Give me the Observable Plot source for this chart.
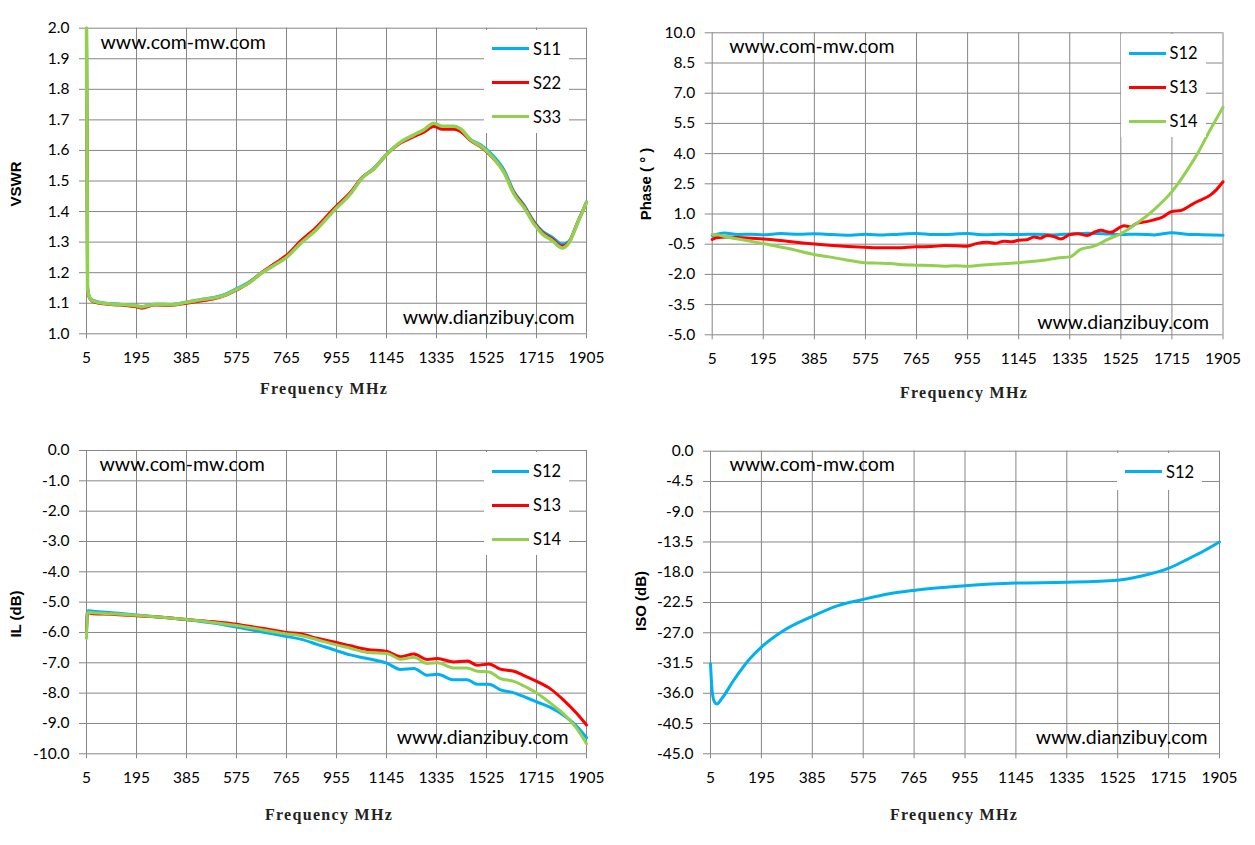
<!DOCTYPE html>
<html><head><meta charset="utf-8">
<script src="https://cdn.jsdelivr.net/npm/d3@7"></script>
<script src="https://cdn.jsdelivr.net/npm/@observablehq/plot@0.6"></script>
<style>
body{margin:0;background:#fff;}
#root{position:relative;width:1255px;height:845px;overflow:hidden;font-family:Lato,"Open Sans",sans-serif;}
.panel{position:absolute;}
.ytitle{position:absolute;font-family:"Liberation Sans",Arial,sans-serif;font-weight:bold;font-size:15px;transform:translate(-50%,-50%) rotate(-90deg);white-space:nowrap;color:#000;}
.xtitle{position:absolute;font-family:"Liberation Serif",serif;font-weight:bold;font-size:16px;letter-spacing:1.3px;transform:translate(-50%,-50%);white-space:nowrap;color:#222;}
.legend{position:absolute;background:#fff;}
.legend .row{position:absolute;left:0;width:100%;height:0;}
.legend .sw{position:absolute;left:8px;width:37px;height:3px;top:-1.5px;}
.legend .lb{position:absolute;left:49px;top:-11px;font-size:16.5px;line-height:22px;color:#000;font-family:Lato,"Open Sans",sans-serif;}
</style></head><body><div id="root"></div><script>
// ---------- data ----------
const xTicks = [5, 195, 385, 575, 765, 955, 1145, 1335, 1525, 1715, 1905];

// VSWR panel
const vswrTicks = [1.0, 1.1, 1.2, 1.3, 1.4, 1.5, 1.6, 1.7, 1.8, 1.9, 2.0];
const vswrFreq = [5, 9, 14, 25, 70, 130, 195, 213, 265, 325, 385, 445, 505, 540, 575, 620, 670, 720, 765, 818, 882, 945, 1008, 1053, 1097, 1148, 1198, 1249, 1287, 1325, 1357, 1401, 1426, 1464, 1509, 1553, 1591, 1629, 1667, 1705, 1737, 1775, 1813, 1838, 1870, 1905];
const vswrS11 = [2.0, 1.15, 1.126, 1.112, 1.101, 1.097, 1.092, 1.089, 1.097, 1.096, 1.104, 1.113, 1.122, 1.132, 1.148, 1.168, 1.2, 1.228, 1.253, 1.298, 1.347, 1.405, 1.46, 1.512, 1.542, 1.59, 1.626, 1.648, 1.665, 1.684, 1.674, 1.674, 1.667, 1.636, 1.615, 1.58, 1.537, 1.466, 1.422, 1.368, 1.336, 1.316, 1.293, 1.302, 1.362, 1.432];
const vswrS22 = [2.0, 1.15, 1.123, 1.108, 1.098, 1.094, 1.088, 1.084, 1.094, 1.093, 1.100, 1.108, 1.118, 1.128, 1.143, 1.165, 1.2, 1.23, 1.257, 1.303, 1.352, 1.41, 1.463, 1.512, 1.54, 1.589, 1.624, 1.645, 1.66, 1.678, 1.669, 1.669, 1.662, 1.632, 1.608, 1.572, 1.53, 1.462, 1.418, 1.365, 1.332, 1.31, 1.287, 1.3, 1.362, 1.43];
const vswrS33 = [2.0, 1.15, 1.125, 1.11, 1.10, 1.096, 1.092, 1.088, 1.096, 1.095, 1.103, 1.112, 1.12, 1.13, 1.145, 1.165, 1.198, 1.225, 1.25, 1.295, 1.344, 1.403, 1.458, 1.510, 1.540, 1.589, 1.627, 1.651, 1.668, 1.689, 1.679, 1.679, 1.671, 1.635, 1.611, 1.573, 1.529, 1.458, 1.414, 1.360, 1.327, 1.305, 1.281, 1.297, 1.36, 1.43];

// Phase panel
const phaseTicks = [10, 8.5, 7, 5.5, 4, 2.5, 1, -0.5, -2, -3.5, -5];
const phaseS12Freq = [5, 50, 100, 150, 195, 260, 330, 385, 450, 520, 575, 640, 700, 765, 830, 900, 955, 1020, 1080, 1145, 1210, 1270, 1335, 1400, 1460, 1525, 1590, 1650, 1715, 1770, 1830, 1905];
const phaseS12 = [-0.07, 0.06, -0.02, 0.0, -0.03, 0.03, -0.01, 0.02, -0.02, -0.05, -0.01, -0.04, 0.0, 0.03, -0.02, 0.0, 0.03, -0.03, -0.01, -0.02, 0.0, -0.04, 0.01, 0.05, 0.02, -0.02, 0.0, -0.04, 0.07, 0.0, -0.03, -0.06];
const phaseS13Freq = [5, 20, 61, 120, 195, 247, 300, 385, 440, 495, 573, 640, 693, 763, 820, 867, 910, 953, 990, 1028, 1060, 1090, 1120, 1145, 1175, 1202, 1225, 1251, 1275, 1301, 1336, 1365, 1400, 1430, 1450, 1487, 1537, 1560, 1586, 1620, 1648, 1680, 1715, 1748, 1780, 1810, 1859, 1880, 1905];
const phaseS13 = [-0.27, -0.18, -0.14, -0.18, -0.24, -0.3, -0.38, -0.49, -0.55, -0.6, -0.65, -0.68, -0.68, -0.63, -0.62, -0.57, -0.58, -0.6, -0.46, -0.4, -0.45, -0.35, -0.38, -0.3, -0.28, -0.14, -0.2, -0.07, -0.12, -0.24, -0.02, 0.02, -0.07, 0.12, 0.19, 0.09, 0.42, 0.36, 0.55, 0.62, 0.71, 0.85, 1.12, 1.17, 1.4, 1.62, 1.95, 2.2, 2.6];
const phaseS14Freq = [5, 30, 61, 128, 195, 284, 385, 440, 495, 573, 620, 668, 720, 763, 820, 867, 910, 953, 1000, 1053, 1100, 1145, 1200, 1239, 1289, 1336, 1375, 1425, 1475, 1525, 1586, 1648, 1715, 1772, 1806, 1850, 1905];
const phaseS14 = [-0.02, -0.05, -0.14, -0.3, -0.47, -0.7, -1.01, -1.13, -1.26, -1.42, -1.44, -1.46, -1.52, -1.54, -1.56, -1.59, -1.57, -1.6, -1.55, -1.5, -1.46, -1.42, -1.35, -1.3, -1.18, -1.13, -0.76, -0.6, -0.27, 0.02, 0.55, 1.21, 2.11, 3.18, 3.9, 5.0, 6.3];

// IL panel
const ilTicks = [0, -1, -2, -3, -4, -5, -6, -7, -8, -9, -10];
const ilFreq = [5, 8, 12, 30, 100, 195, 290, 385, 480, 575, 640, 700, 765, 818, 881, 955, 1008, 1072, 1148, 1198, 1249, 1300, 1338, 1401, 1452, 1490, 1534, 1578, 1629, 1680, 1720, 1768, 1819, 1870, 1905];
const ilS12 = [-6.0, -5.35, -5.28, -5.3, -5.35, -5.42, -5.5, -5.58, -5.68, -5.82, -5.93, -6.03, -6.13, -6.22, -6.39, -6.60, -6.74, -6.86, -7.02, -7.22, -7.19, -7.41, -7.38, -7.56, -7.56, -7.71, -7.71, -7.89, -7.99, -8.16, -8.30, -8.47, -8.74, -9.11, -9.47];
const ilS13 = [-5.95, -5.4, -5.35, -5.38, -5.4, -5.45, -5.5, -5.57, -5.64, -5.73, -5.82, -5.9, -6.0, -6.04, -6.19, -6.33, -6.44, -6.56, -6.63, -6.80, -6.71, -6.89, -6.86, -6.97, -6.94, -7.08, -7.04, -7.21, -7.28, -7.47, -7.63, -7.86, -8.24, -8.69, -9.05];
const ilS14 = [-6.2, -5.38, -5.33, -5.35, -5.38, -5.43, -5.5, -5.57, -5.66, -5.77, -5.86, -5.95, -6.05, -6.10, -6.24, -6.41, -6.52, -6.66, -6.69, -6.88, -6.82, -7.02, -7.0, -7.17, -7.17, -7.28, -7.30, -7.52, -7.61, -7.82, -8.02, -8.33, -8.69, -9.19, -9.67];

// ISO panel
const isoTicks = [0, -4.5, -9, -13.5, -18, -22.5, -27, -31.5, -36, -40.5, -45];
const isoFreq = [5, 11, 20, 29, 47, 91, 151, 196, 277, 383, 478, 574, 672, 763, 895, 955, 1144, 1335, 1524, 1610, 1716, 1789, 1848, 1905];
const isoS12 = [-31.6, -35.6, -37.3, -37.6, -36.8, -34.1, -30.9, -29.1, -26.7, -24.6, -23.0, -22.05, -21.2, -20.7, -20.2, -20.0, -19.6, -19.5, -19.2, -18.6, -17.4, -16.0, -14.8, -13.5];

// ---------- drawing ----------
const BLUE = "#00B0F0", RED = "#FF0000", GREEN = "#92D050", GRID = "#868686";
const root = document.getElementById("root");

function rows(freq, vals) { return freq.map((f, i) => ({f, v: vals[i]})); }

function panel(cfg) {
  const {left, top, width, height, ml, mr, mt, mb, yDomain, yTicks, series, wm1, wm2, legend, ytitle, ytitlePos, xtitlePos} = cfg;
  const marks = [
    Plot.gridX(xTicks, {stroke: GRID, strokeOpacity: 1, strokeWidth: 1}),
    Plot.gridY(yTicks, {stroke: GRID, strokeOpacity: 1, strokeWidth: 1}),
    Plot.axisX(xTicks, {tickSize: 5, tickPadding: 13, stroke: GRID, fill: "#000", tickFormat: d => String(d)}),
    Plot.axisY(yTicks, {tickSize: 7, tickPadding: 10, stroke: GRID, fill: "#000", tickFormat: d => d.toFixed(1)})
  ];
  for (const s of series) {
    marks.push(Plot.line(rows(s.freq, s.vals), {x: "f", y: "v", stroke: s.color, strokeWidth: s.w || 3, curve: "monotone-x"}));
  }
  marks.push(Plot.text(["www.com-mw.com"], {text: d => d, frameAnchor: "top-left", dx: wm1[0], dy: wm1[1], textAnchor: "start", lineAnchor: "middle", fontSize: 19.5, fill: "#000"}));
  marks.push(Plot.text(["www.dianzibuy.com"], {text: d => d, frameAnchor: "bottom-right", dx: wm2[0], dy: wm2[1], textAnchor: "end", lineAnchor: "middle", fontSize: 19.5, fill: "#000"}));
  const svg = Plot.plot({
    width, height, marginLeft: ml, marginRight: mr, marginTop: mt, marginBottom: mb,
    style: {fontFamily: "Lato, 'Open Sans', sans-serif", fontSize: "15.5px", color: "#000", background: "#fff", overflow: "visible"},
    x: {domain: [5, 1905], label: null},
    y: {domain: yDomain, label: null},
    marks
  });
  const wrap = document.createElement("div");
  wrap.className = "panel";
  wrap.style.left = left + "px"; wrap.style.top = top + "px";
  wrap.appendChild(svg);
  root.appendChild(wrap);

  // legend box (covers the grid like the original)
  const frameRight = left + width - mr, frameTop = top + mt;
  const lg = document.createElement("div");
  lg.className = "legend";
  lg.style.left = (frameRight - 102) + "px";
  lg.style.top = (frameTop + 2) + "px";
  lg.style.width = "85px";
  lg.style.height = (legend.length === 1 ? 37 : 103) + "px";
  legend.forEach((it, i) => {
    const r = document.createElement("div");
    r.className = "row";
    r.style.top = (19 + i * 34) + "px";
    r.innerHTML = `<div class="sw" style="background:${it.color}"></div><div class="lb">${it.name}</div>`;
    lg.appendChild(r);
  });
  root.appendChild(lg);

  const yt = document.createElement("div");
  yt.className = "ytitle"; yt.textContent = ytitle;
  yt.style.left = ytitlePos[0] + "px"; yt.style.top = ytitlePos[1] + "px";
  root.appendChild(yt);
  const xt = document.createElement("div");
  xt.className = "xtitle"; xt.textContent = "Frequency MHz";
  xt.style.left = xtitlePos[0] + "px"; xt.style.top = xtitlePos[1] + "px";
  root.appendChild(xt);
}

panel({
  left: 0, top: 0, width: 620, height: 420, ml: 86, mr: 34, mt: 27.7, mb: 86.7,
  yDomain: [1.0, 2.0], yTicks: vswrTicks,
  series: [
    {freq: vswrFreq, vals: vswrS11, color: BLUE},
    {freq: vswrFreq, vals: vswrS22, color: RED},
    {freq: vswrFreq, vals: vswrS33, color: GREEN, w: 3.5}
  ],
  wm1: [14, 15], wm2: [-12, -16],
  legend: [{name: "S11", color: BLUE}, {name: "S22", color: RED}, {name: "S33", color: GREEN}],
  ytitle: "VSWR", ytitlePos: [15, 184], xtitlePos: [324, 389]
});

panel({
  left: 620, top: 0, width: 635, height: 420, ml: 91.7, mr: 32.5, mt: 32.3, mb: 85.7,
  yDomain: [-5, 10], yTicks: phaseTicks,
  series: [
    {freq: phaseS12Freq, vals: phaseS12, color: BLUE},
    {freq: phaseS13Freq, vals: phaseS13, color: RED},
    {freq: phaseS14Freq, vals: phaseS14, color: GREEN}
  ],
  wm1: [17, 14], wm2: [-14, -12],
  legend: [{name: "S12", color: BLUE}, {name: "S13", color: RED}, {name: "S14", color: GREEN}],
  ytitle: "Phase ( ° )", ytitlePos: [645, 184], xtitlePos: [964, 393]
});

panel({
  left: 0, top: 420, width: 620, height: 425, ml: 86, mr: 34, mt: 30, mb: 91.7,
  yDomain: [-10, 0], yTicks: ilTicks,
  series: [
    {freq: ilFreq, vals: ilS12, color: BLUE},
    {freq: ilFreq, vals: ilS13, color: RED},
    {freq: ilFreq, vals: ilS14, color: GREEN}
  ],
  wm1: [13, 14], wm2: [-18, -16],
  legend: [{name: "S12", color: BLUE}, {name: "S13", color: RED}, {name: "S14", color: GREEN}],
  ytitle: "IL (dB)", ytitlePos: [15, 614], xtitlePos: [329, 815]
});

panel({
  left: 620, top: 420, width: 635, height: 425, ml: 90, mr: 36, mt: 30.7, mb: 91.7,
  yDomain: [-45, 0], yTicks: isoTicks,
  series: [
    {freq: isoFreq, vals: isoS12, color: BLUE}
  ],
  wm1: [19, 14], wm2: [-12, -16],
  legend: [{name: "S12", color: BLUE}],
  ytitle: "ISO (dB)", ytitlePos: [640, 601], xtitlePos: [954, 815]
});
</script></body></html>
